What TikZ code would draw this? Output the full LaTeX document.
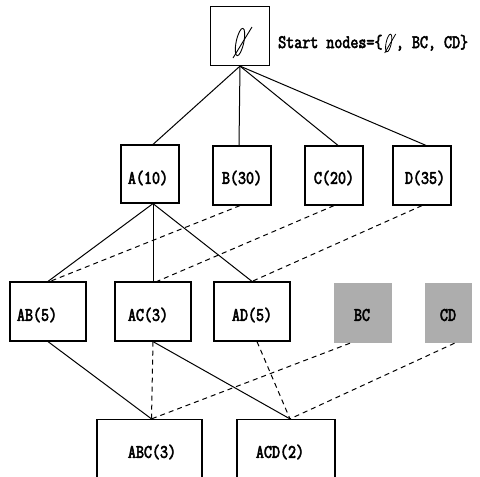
\documentclass[tikz,border=0pt]{standalone}
\usepackage{fontspec}
\newfontfamily\monob[FakeStretch=0.82,FakeBold=3]{Latin Modern Mono}
\newcommand\lt[1]{{\fontsize{19}{19}\monob #1}}
\begin{document}
\begin{tikzpicture}[x=1pt,y=-1pt,
  box/.style={draw,line width=1.2pt,inner sep=0pt,minimum width=#1},
  gbox/.style={fill=black!32,inner sep=0pt,minimum width=#1},
  lbl/.style={inner sep=0pt},
  solid edge/.style={line width=1pt},
  dash edge/.style={line width=1pt,dash pattern=on 5pt off 4pt}]
\useasboundingbox (0,0) rectangle (480,477);
% boxes
\node[box=59pt,minimum height=59pt] (top) at (240,36) {};
\node[box=58pt,minimum height=58pt] (A) at (150,174) {};
\node[box=58pt,minimum height=59pt] (B) at (242,175.5) {};
\node[box=58pt,minimum height=59pt] (C) at (334,175.5) {};
\node[box=58pt,minimum height=59pt] (D) at (422,175.5) {};
\node[box=76pt,minimum height=59pt] (AB) at (48,311.5) {};
\node[box=76pt,minimum height=59pt] (AC) at (153,311.5) {};
\node[box=76pt,minimum height=59pt] (AD) at (252,311.5) {};
\node[gbox=58pt,minimum height=60pt] (BC) at (363,313) {};
\node[gbox=47pt,minimum height=60pt] (CD) at (448.5,313) {};
\node[box=105pt,minimum height=58pt] (ABC) at (149.5,448.5) {};
\node[box=98pt,minimum height=58pt] (ACD) at (286,448.5) {};
% empty set symbol in top box
\coordinate (es) at (240,42);
\draw[line width=0.9pt,rotate around={-12:(es)}] (es) ellipse (3.8pt and 14pt);
\draw[line width=0.9pt] ([shift={(-7,16)}]es) -- ([shift={(12,-15)}]es);
% texts
\node[lbl,anchor=base west] (start) at (278,48) {\lt{Start nodes=\{}};
\coordinate (es2) at ([xshift=6pt,yshift=5pt]start.base east);
\draw[line width=0.8pt,rotate around={-12:(es2)}] (es2) ellipse (2.6pt and 9pt);
\draw[line width=0.8pt] ([shift={(-4,10)}]es2) -- ([shift={(7,-9)}]es2);
\node[lbl,anchor=base west] (start2) at ([xshift=13pt]start.base east) {\lt{, BC, CD\}}};
\node[lbl] (tA) at (148,178) {\lt{A(10)}};
\node[lbl] (tB) at (242,178) {\lt{B(30)}};
\node[lbl] (tC) at (334,178) {\lt{C(20)}};
\node[lbl] (tD) at (425,178) {\lt{D(35)}};
\node[lbl] (tAB) at (37,315) {\lt{AB(5)}};
\node[lbl] (tAC) at (148,315) {\lt{AC(3)}};
\node[lbl] (tAD) at (252,315) {\lt{AD(5)}};
\node[lbl] (tBC) at (362,315) {\lt{BC}};
\node[lbl] (tCD) at (448,315) {\lt{CD}};
\node[lbl] (tABC) at (152,452) {\lt{ABC(3)}};
\node[lbl] (tACD) at (280,452) {\lt{ACD(2)}};
% connectors
\draw[solid edge] (top.south) -- ([xshift=3pt]A.north);
\draw[solid edge] (top.south) -- ([xshift=-3pt]B.north);
\draw[solid edge] (top.south) -- ([xshift=4pt]C.north);
\draw[solid edge] (top.south) -- ([xshift=4pt]D.north);
\draw[solid edge] ([xshift=3pt]A.south) -- (AB.north);
\draw[solid edge] ([xshift=3pt]A.south) -- (AC.north);
\draw[solid edge] ([xshift=3pt]A.south) -- (AD.north);
\draw[dash edge] ([xshift=-2pt]B.south) -- ([xshift=2pt]AB.north);
\draw[dash edge] (C.south) -- ([xshift=4pt]AC.north);
\draw[dash edge] (D.south) -- (AD.north);
\draw[solid edge] (AB.south) -- ([xshift=2pt]ABC.north);
\draw[dash edge] (AC.south) -- ([xshift=2pt]ABC.north);
\draw[solid edge] (AC.south) -- ([xshift=4pt]ACD.north);
\draw[dash edge] ([xshift=5pt]AD.south) -- ([xshift=4pt]ACD.north);
\draw[dash edge] ([xshift=-13pt]BC.south) -- ([xshift=2pt]ABC.north);
\draw[dash edge] ([xshift=6pt]CD.south) -- ([xshift=4pt]ACD.north);
\end{tikzpicture}
\end{document}
